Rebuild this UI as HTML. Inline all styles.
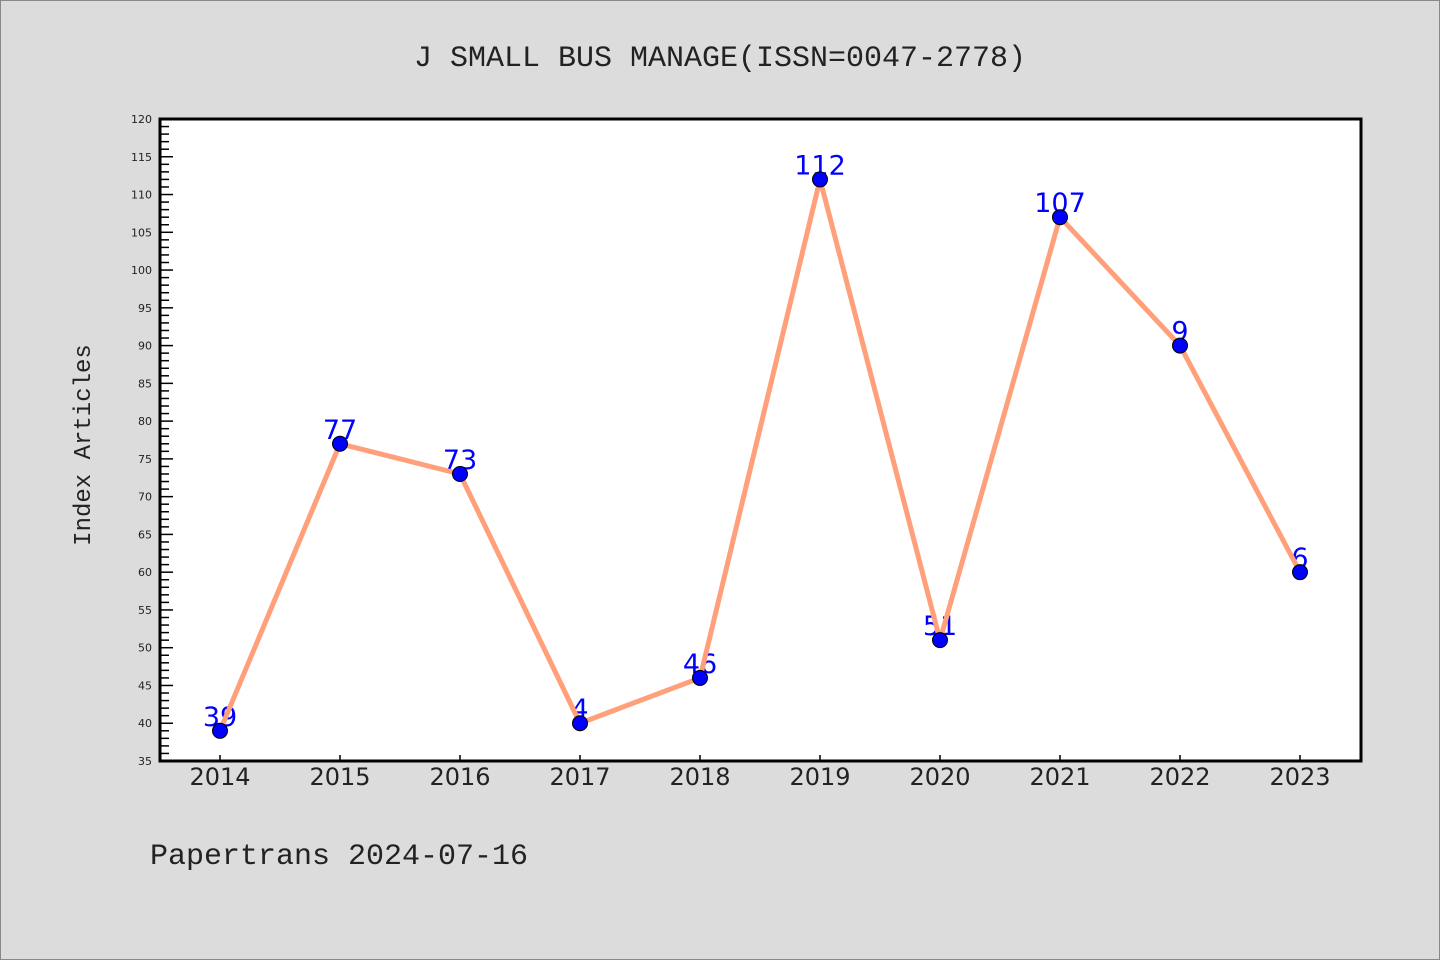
<!DOCTYPE html>
<html><head><meta charset="utf-8"><style>
html,body{margin:0;padding:0;background:#dcdcdc;}
svg{display:block;font-family:"Liberation Mono","DejaVu Sans Mono",monospace;}
</style></head><body>
<svg id="chart" width="1440" height="960" xmlns="http://www.w3.org/2000/svg">
<rect x="0.5" y="0.5" width="1439" height="959" fill="#dcdcdc" stroke="#888"/>
<text x="720" y="66" text-anchor="middle" font-size="30" fill="#222">J SMALL BUS MANAGE(ISSN=0047-2778)</text>
<rect x="160" y="119" width="1201" height="642" fill="#fff"/>
<g id="yticks"></g>
<g id="xticks"></g>
<g id="labels"></g>
<g id="series"></g>
<rect x="160" y="119" width="1201" height="642" fill="none" stroke="#000" stroke-width="3"/>
<text transform="translate(90,445) rotate(-90)" text-anchor="middle" font-size="24" fill="#222">Index Articles</text>
<text x="150" y="864" font-size="30" fill="#222">Papertrans 2024-07-16</text>
</svg>
<script>
const years = ["2014","2015","2016","2017","2018","2019","2020","2021","2022","2023"];
const values = [39,77,73,40,46,112,51,107,90,60];
const pointLabels = ["39","77","73","4","46","112","51","107","9","6"];
const yMin = 35, yMax = 120;
const NS = "http://www.w3.org/2000/svg";
const X = i => 220 + i * 120;
const Y = v => 761 - (v - yMin) * (642 / (yMax - yMin));
function mk(tag, attrs, parent) { const e = document.createElementNS(NS, tag); for (const k in attrs) e.setAttribute(k, attrs[k]); parent.appendChild(e); return e; }
const yt = document.getElementById('yticks');
for (let v = yMin; v <= yMax; v++) {
  const major = v % 5 === 0;
  const l = mk('line', {x1:160, x2: major ? 173 : 169, y1: Y(v), y2: Y(v), stroke:'#000', 'stroke-width':1.5}, yt);
  
  
  if (major) {
    const t = mk('text', {x:152, y: Y(v) + 4, 'text-anchor':'end', 'font-size':11, fill:'#222', 'font-family':'"DejaVu Sans",sans-serif'}, yt);
    t.textContent = v;
    
    
  }
}
const xt = document.getElementById('xticks');
years.forEach((yr, i) => {
  const l = mk('line', {x1:X(i), x2:X(i), y1:761, y2:755, stroke:'#000', 'stroke-width':1.5}, xt);
  
  
  const t = mk('text', {x:X(i), y:785, 'text-anchor':'middle', 'font-size':24, fill:'#222', 'font-family':'"DejaVu Sans",sans-serif'}, xt);
  t.textContent = yr;
  
  
});
const lg = document.getElementById('labels');
values.forEach((v, i) => {
  const t = mk('text', {x:X(i), y:Y(v) - 5, 'text-anchor':'middle', 'font-size':27, fill:'#0000ff', 'font-family':'"DejaVu Sans",sans-serif'}, lg);
  t.textContent = pointLabels[i];
  
  
});
const sg = document.getElementById('series');
const pl = mk('polyline', {points: values.map((v, i) => X(i) + ',' + Y(v)).join(' '), fill:'none', stroke:'#ffa07a', 'stroke-width':5, 'stroke-linejoin':'round'}, sg);


values.forEach((v, i) => {
  const c = mk('circle', {cx:X(i), cy:Y(v), r:7.5, fill:'#0000ff', stroke:'#000', 'stroke-width':1}, sg);
  
  
});
</script>
</body></html>
